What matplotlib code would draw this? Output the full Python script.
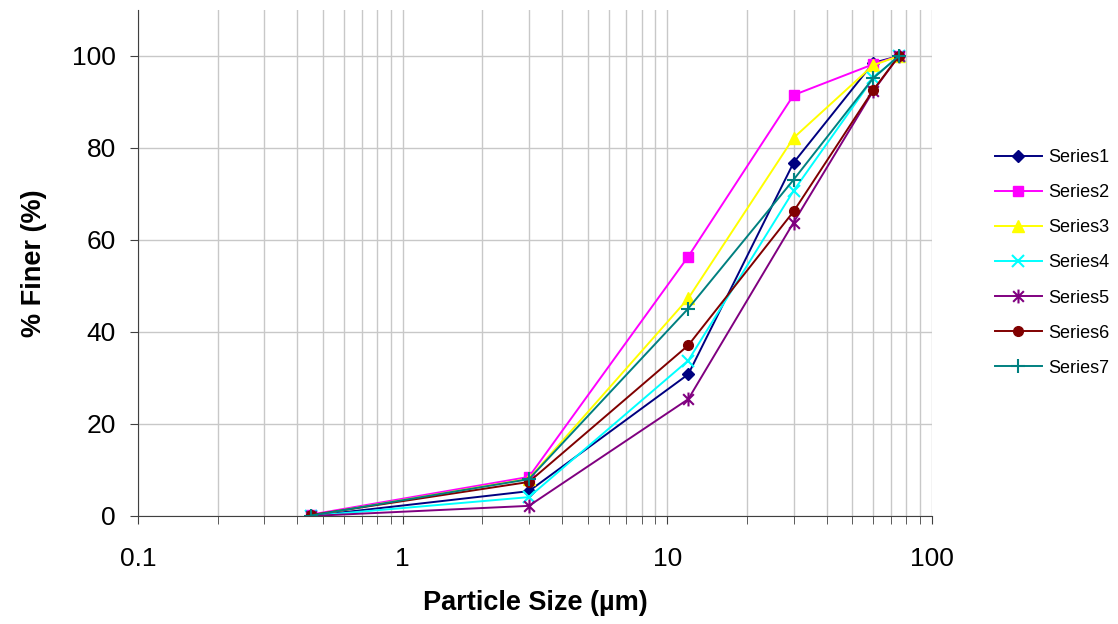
import matplotlib
matplotlib.use("Agg")
import matplotlib.pyplot as plt
from matplotlib.path import Path
from matplotlib.ticker import LogLocator, FixedLocator, NullFormatter

plt.rcParams["font.family"] = ["Liberation Sans", "DejaVu Sans"]

# particle sizes (µm)
sizes = [0.45, 3, 12, 30, 60, 75]

series1 = [0.0, 5.4, 30.8, 76.8, 98.5, 100]
series2 = [0.3, 8.5, 56.4, 91.5, 98.2, 100]
series3 = [0.1, 8.1, 47.3, 82.2, 98.0, 100]
series4 = [0.0, 4.1, 33.8, 70.7, 95.2, 100]
series5 = [0.0, 2.2, 25.4, 63.8, 92.4, 100]
series6 = [0.2, 7.4, 37.1, 66.2, 92.6, 100]
series7 = [0.1, 8.0, 45.1, 73.1, 95.2, 100]

names = ["Series1", "Series2", "Series3", "Series4", "Series5", "Series6", "Series7"]
colors = ["#000080", "#FF00FF", "#FFFF00", "#00FFFF", "#800080", "#800000", "#008080"]

# Excel-style star: an x with a vertical bar through it
star = Path([(-1, -1), (1, 1), (-1, 1), (1, -1), (0, -1.3), (0, 1.3)],
            [Path.MOVETO, Path.LINETO, Path.MOVETO, Path.LINETO, Path.MOVETO, Path.LINETO])
markers = ["D", "s", "^", "x", star, "o", "+"]
msizes = [6, 7, 8, 8, 10, 7, 10]

fig = plt.figure(figsize=(11.18, 6.24), dpi=100)
ax = fig.add_axes([0.1234, 0.1731, 0.7102, 0.8109])

all_series = [series1, series2, series3, series4, series5, series6, series7]
for vals, name, c, m, ms in zip(all_series, names, colors, markers, msizes):
    ax.plot(sizes, vals, color=c, marker=m, markersize=ms, linewidth=1.4,
            markeredgewidth=1.5 if m in ("x", "+") or m is star else 1,
            label=name)

ax.set_xscale("log")
ax.set_xlim(0.1, 100)
ax.set_ylim(0, 110)
ax.yaxis.set_major_locator(FixedLocator([0, 20, 40, 60, 80, 100]))
ax.xaxis.set_major_locator(FixedLocator([0.1, 1, 10, 100]))
ax.set_xticklabels(["0.1", "1", "10", "100"])
ax.xaxis.set_minor_locator(LogLocator(base=10, subs=range(2, 10)))
ax.xaxis.set_minor_formatter(NullFormatter())

ax.grid(True, which="major", color="#c8c8c8", linewidth=1)
ax.grid(True, which="minor", axis="x", color="#c8c8c8", linewidth=1)
ax.set_axisbelow(True)

for side in ["top", "right"]:
    ax.spines[side].set_visible(False)
ax.spines["left"].set_color("#404040")
ax.spines["bottom"].set_color("#404040")

ax.tick_params(axis="both", which="both", labelsize=19, length=6, color="#404040")
ax.tick_params(axis="x", which="major", pad=16)
ax.tick_params(axis="y", which="major", pad=10)

ax.set_xlabel("Particle Size (µm)", fontsize=19.5, fontweight="bold", labelpad=14)
ax.set_ylabel("% Finer (%)", fontsize=19.5, fontweight="bold", labelpad=18)

ax.legend(loc="center left", bbox_to_anchor=(1.079, 0.5), frameon=False,
          borderpad=0, borderaxespad=0,
          fontsize=13, handlelength=2.6, labelspacing=1.0, handletextpad=0.35)

fig.savefig("out.png", dpi=100, facecolor="white")
